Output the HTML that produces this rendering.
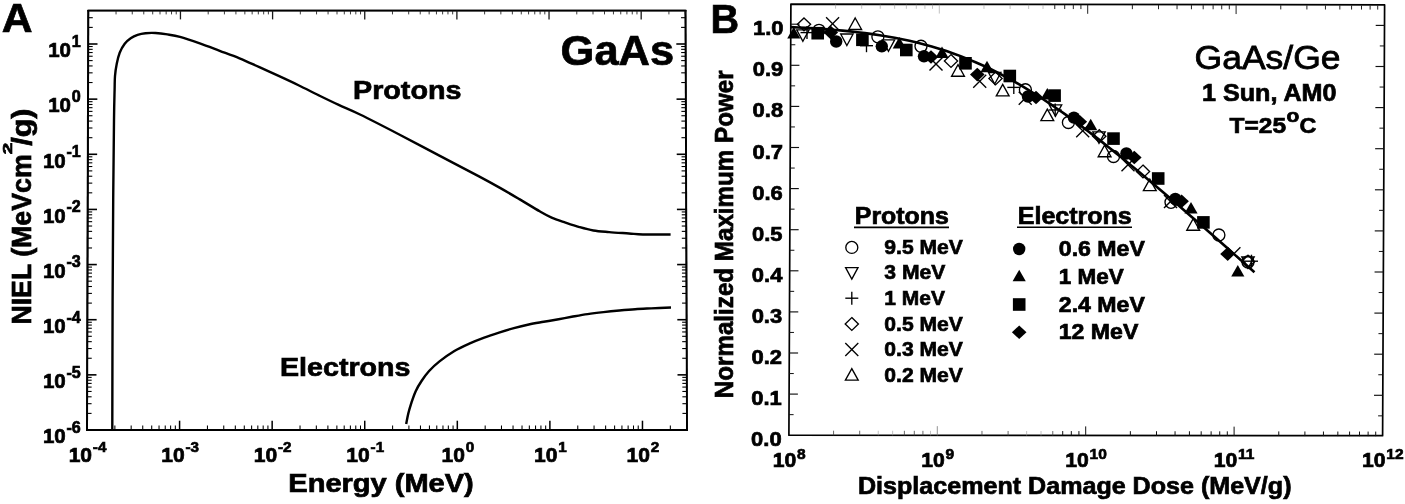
<!DOCTYPE html>
<html><head><meta charset="utf-8"><title>Figure</title>
<style>html,body{margin:0;padding:0;background:#fff;}svg{display:block;}text{font-family:"Liberation Sans",sans-serif;fill:#000;}</style>
</head><body>
<div style="will-change:transform;width:1405px;height:504px;overflow:hidden;background:#fff;">
<svg width="1405" height="504" viewBox="0 0 1405 504">
<rect x="0" y="0" width="1405" height="504" fill="#fff"/>
<polygon points="88.3,10.6 685.5,10.6 687.0,430.0 87.0,430.0" fill="none" stroke="#000" stroke-width="1.5" stroke-linejoin="round"/>
<line x1="88.30" y1="10.00" x2="87.00" y2="431.00" stroke="#000" stroke-width="2.0"/>
<line x1="685.50" y1="10.00" x2="687.00" y2="431.00" stroke="#000" stroke-width="1.9"/>
<line x1="86.00" y1="430.00" x2="687.95" y2="430.00" stroke="#000" stroke-width="2.1"/>
<line x1="87.30" y1="10.60" x2="686.45" y2="10.60" stroke="#000" stroke-width="1.6"/>
<line x1="114.87" y1="430.00" x2="114.87" y2="425.50" stroke="#000" stroke-width="1.05"/>
<line x1="116.04" y1="10.60" x2="116.04" y2="14.40" stroke="#1a1a1a" stroke-width="0.8500000000000001"/>
<line x1="131.17" y1="430.00" x2="131.17" y2="425.50" stroke="#000" stroke-width="1.05"/>
<line x1="132.26" y1="10.60" x2="132.26" y2="14.40" stroke="#1a1a1a" stroke-width="0.8500000000000001"/>
<line x1="142.74" y1="430.00" x2="142.74" y2="425.50" stroke="#000" stroke-width="1.05"/>
<line x1="143.78" y1="10.60" x2="143.78" y2="14.40" stroke="#1a1a1a" stroke-width="0.8500000000000001"/>
<line x1="151.71" y1="430.00" x2="151.71" y2="425.50" stroke="#000" stroke-width="1.05"/>
<line x1="152.71" y1="10.60" x2="152.71" y2="14.40" stroke="#1a1a1a" stroke-width="0.8500000000000001"/>
<line x1="159.04" y1="430.00" x2="159.04" y2="425.50" stroke="#000" stroke-width="1.05"/>
<line x1="160.00" y1="10.60" x2="160.00" y2="14.40" stroke="#1a1a1a" stroke-width="0.8500000000000001"/>
<line x1="165.24" y1="430.00" x2="165.24" y2="425.50" stroke="#000" stroke-width="1.05"/>
<line x1="166.17" y1="10.60" x2="166.17" y2="14.40" stroke="#1a1a1a" stroke-width="0.8500000000000001"/>
<line x1="170.61" y1="430.00" x2="170.61" y2="425.50" stroke="#000" stroke-width="1.05"/>
<line x1="171.52" y1="10.60" x2="171.52" y2="14.40" stroke="#1a1a1a" stroke-width="0.8500000000000001"/>
<line x1="175.34" y1="430.00" x2="175.34" y2="425.50" stroke="#000" stroke-width="1.05"/>
<line x1="176.23" y1="10.60" x2="176.23" y2="14.40" stroke="#1a1a1a" stroke-width="0.8500000000000001"/>
<line x1="179.58" y1="430.00" x2="179.58" y2="420.70" stroke="#000" stroke-width="1.5"/>
<line x1="180.45" y1="10.60" x2="180.45" y2="19.40" stroke="#1a1a1a" stroke-width="1.3"/>
<line x1="207.45" y1="430.00" x2="207.45" y2="425.50" stroke="#000" stroke-width="1.05"/>
<line x1="208.19" y1="10.60" x2="208.19" y2="14.40" stroke="#1a1a1a" stroke-width="0.8500000000000001"/>
<line x1="223.75" y1="430.00" x2="223.75" y2="425.50" stroke="#000" stroke-width="1.05"/>
<line x1="224.41" y1="10.60" x2="224.41" y2="14.40" stroke="#1a1a1a" stroke-width="0.8500000000000001"/>
<line x1="235.32" y1="430.00" x2="235.32" y2="425.50" stroke="#000" stroke-width="1.05"/>
<line x1="235.92" y1="10.60" x2="235.92" y2="14.40" stroke="#1a1a1a" stroke-width="0.8500000000000001"/>
<line x1="244.29" y1="430.00" x2="244.29" y2="425.50" stroke="#000" stroke-width="1.05"/>
<line x1="244.85" y1="10.60" x2="244.85" y2="14.40" stroke="#1a1a1a" stroke-width="0.8500000000000001"/>
<line x1="251.62" y1="430.00" x2="251.62" y2="425.50" stroke="#000" stroke-width="1.05"/>
<line x1="252.15" y1="10.60" x2="252.15" y2="14.40" stroke="#1a1a1a" stroke-width="0.8500000000000001"/>
<line x1="257.82" y1="430.00" x2="257.82" y2="425.50" stroke="#000" stroke-width="1.05"/>
<line x1="258.32" y1="10.60" x2="258.32" y2="14.40" stroke="#1a1a1a" stroke-width="0.8500000000000001"/>
<line x1="263.18" y1="430.00" x2="263.18" y2="425.50" stroke="#000" stroke-width="1.05"/>
<line x1="263.66" y1="10.60" x2="263.66" y2="14.40" stroke="#1a1a1a" stroke-width="0.8500000000000001"/>
<line x1="267.92" y1="430.00" x2="267.92" y2="425.50" stroke="#000" stroke-width="1.05"/>
<line x1="268.38" y1="10.60" x2="268.38" y2="14.40" stroke="#1a1a1a" stroke-width="0.8500000000000001"/>
<line x1="272.16" y1="430.00" x2="272.16" y2="420.70" stroke="#000" stroke-width="1.5"/>
<line x1="272.59" y1="10.60" x2="272.59" y2="19.40" stroke="#1a1a1a" stroke-width="1.3"/>
<line x1="300.03" y1="430.00" x2="300.03" y2="425.50" stroke="#000" stroke-width="1.05"/>
<line x1="300.33" y1="10.60" x2="300.33" y2="14.40" stroke="#1a1a1a" stroke-width="0.8500000000000001"/>
<line x1="316.33" y1="430.00" x2="316.33" y2="425.50" stroke="#000" stroke-width="1.05"/>
<line x1="316.56" y1="10.60" x2="316.56" y2="14.40" stroke="#1a1a1a" stroke-width="0.8500000000000001"/>
<line x1="327.89" y1="430.00" x2="327.89" y2="425.50" stroke="#000" stroke-width="1.05"/>
<line x1="328.07" y1="10.60" x2="328.07" y2="14.40" stroke="#1a1a1a" stroke-width="0.8500000000000001"/>
<line x1="336.87" y1="430.00" x2="336.87" y2="425.50" stroke="#000" stroke-width="1.05"/>
<line x1="337.00" y1="10.60" x2="337.00" y2="14.40" stroke="#1a1a1a" stroke-width="0.8500000000000001"/>
<line x1="344.20" y1="430.00" x2="344.20" y2="425.50" stroke="#000" stroke-width="1.05"/>
<line x1="344.30" y1="10.60" x2="344.30" y2="14.40" stroke="#1a1a1a" stroke-width="0.8500000000000001"/>
<line x1="350.39" y1="430.00" x2="350.39" y2="425.50" stroke="#000" stroke-width="1.05"/>
<line x1="350.47" y1="10.60" x2="350.47" y2="14.40" stroke="#1a1a1a" stroke-width="0.8500000000000001"/>
<line x1="355.76" y1="430.00" x2="355.76" y2="425.50" stroke="#000" stroke-width="1.05"/>
<line x1="355.81" y1="10.60" x2="355.81" y2="14.40" stroke="#1a1a1a" stroke-width="0.8500000000000001"/>
<line x1="360.50" y1="430.00" x2="360.50" y2="425.50" stroke="#000" stroke-width="1.05"/>
<line x1="360.52" y1="10.60" x2="360.52" y2="14.40" stroke="#1a1a1a" stroke-width="0.8500000000000001"/>
<line x1="364.73" y1="430.00" x2="364.73" y2="420.70" stroke="#000" stroke-width="1.5"/>
<line x1="364.74" y1="10.60" x2="364.74" y2="19.40" stroke="#1a1a1a" stroke-width="1.3"/>
<line x1="392.60" y1="430.00" x2="392.60" y2="425.50" stroke="#000" stroke-width="1.05"/>
<line x1="392.48" y1="10.60" x2="392.48" y2="14.40" stroke="#1a1a1a" stroke-width="0.8500000000000001"/>
<line x1="408.91" y1="430.00" x2="408.91" y2="425.50" stroke="#000" stroke-width="1.05"/>
<line x1="408.70" y1="10.60" x2="408.70" y2="14.40" stroke="#1a1a1a" stroke-width="0.8500000000000001"/>
<line x1="420.47" y1="430.00" x2="420.47" y2="425.50" stroke="#000" stroke-width="1.05"/>
<line x1="420.22" y1="10.60" x2="420.22" y2="14.40" stroke="#1a1a1a" stroke-width="0.8500000000000001"/>
<line x1="429.44" y1="430.00" x2="429.44" y2="425.50" stroke="#000" stroke-width="1.05"/>
<line x1="429.15" y1="10.60" x2="429.15" y2="14.40" stroke="#1a1a1a" stroke-width="0.8500000000000001"/>
<line x1="436.77" y1="430.00" x2="436.77" y2="425.50" stroke="#000" stroke-width="1.05"/>
<line x1="436.44" y1="10.60" x2="436.44" y2="14.40" stroke="#1a1a1a" stroke-width="0.8500000000000001"/>
<line x1="442.97" y1="430.00" x2="442.97" y2="425.50" stroke="#000" stroke-width="1.05"/>
<line x1="442.61" y1="10.60" x2="442.61" y2="14.40" stroke="#1a1a1a" stroke-width="0.8500000000000001"/>
<line x1="448.34" y1="430.00" x2="448.34" y2="425.50" stroke="#000" stroke-width="1.05"/>
<line x1="447.96" y1="10.60" x2="447.96" y2="14.40" stroke="#1a1a1a" stroke-width="0.8500000000000001"/>
<line x1="453.08" y1="430.00" x2="453.08" y2="425.50" stroke="#000" stroke-width="1.05"/>
<line x1="452.67" y1="10.60" x2="452.67" y2="14.40" stroke="#1a1a1a" stroke-width="0.8500000000000001"/>
<line x1="457.31" y1="430.00" x2="457.31" y2="420.70" stroke="#000" stroke-width="1.5"/>
<line x1="456.89" y1="10.60" x2="456.89" y2="19.40" stroke="#1a1a1a" stroke-width="1.3"/>
<line x1="485.18" y1="430.00" x2="485.18" y2="425.50" stroke="#000" stroke-width="1.05"/>
<line x1="484.62" y1="10.60" x2="484.62" y2="14.40" stroke="#1a1a1a" stroke-width="0.8500000000000001"/>
<line x1="501.48" y1="430.00" x2="501.48" y2="425.50" stroke="#000" stroke-width="1.05"/>
<line x1="500.85" y1="10.60" x2="500.85" y2="14.40" stroke="#1a1a1a" stroke-width="0.8500000000000001"/>
<line x1="513.05" y1="430.00" x2="513.05" y2="425.50" stroke="#000" stroke-width="1.05"/>
<line x1="512.36" y1="10.60" x2="512.36" y2="14.40" stroke="#1a1a1a" stroke-width="0.8500000000000001"/>
<line x1="522.02" y1="430.00" x2="522.02" y2="425.50" stroke="#000" stroke-width="1.05"/>
<line x1="521.29" y1="10.60" x2="521.29" y2="14.40" stroke="#1a1a1a" stroke-width="0.8500000000000001"/>
<line x1="529.35" y1="430.00" x2="529.35" y2="425.50" stroke="#000" stroke-width="1.05"/>
<line x1="528.59" y1="10.60" x2="528.59" y2="14.40" stroke="#1a1a1a" stroke-width="0.8500000000000001"/>
<line x1="535.55" y1="430.00" x2="535.55" y2="425.50" stroke="#000" stroke-width="1.05"/>
<line x1="534.76" y1="10.60" x2="534.76" y2="14.40" stroke="#1a1a1a" stroke-width="0.8500000000000001"/>
<line x1="540.92" y1="430.00" x2="540.92" y2="425.50" stroke="#000" stroke-width="1.05"/>
<line x1="540.10" y1="10.60" x2="540.10" y2="14.40" stroke="#1a1a1a" stroke-width="0.8500000000000001"/>
<line x1="545.66" y1="430.00" x2="545.66" y2="425.50" stroke="#000" stroke-width="1.05"/>
<line x1="544.81" y1="10.60" x2="544.81" y2="14.40" stroke="#1a1a1a" stroke-width="0.8500000000000001"/>
<line x1="549.89" y1="430.00" x2="549.89" y2="420.70" stroke="#000" stroke-width="1.5"/>
<line x1="549.03" y1="10.60" x2="549.03" y2="19.40" stroke="#1a1a1a" stroke-width="1.3"/>
<line x1="577.76" y1="430.00" x2="577.76" y2="425.50" stroke="#000" stroke-width="1.05"/>
<line x1="576.77" y1="10.60" x2="576.77" y2="14.40" stroke="#1a1a1a" stroke-width="0.8500000000000001"/>
<line x1="594.06" y1="430.00" x2="594.06" y2="425.50" stroke="#000" stroke-width="1.05"/>
<line x1="593.00" y1="10.60" x2="593.00" y2="14.40" stroke="#1a1a1a" stroke-width="0.8500000000000001"/>
<line x1="605.63" y1="430.00" x2="605.63" y2="425.50" stroke="#000" stroke-width="1.05"/>
<line x1="604.51" y1="10.60" x2="604.51" y2="14.40" stroke="#1a1a1a" stroke-width="0.8500000000000001"/>
<line x1="614.60" y1="430.00" x2="614.60" y2="425.50" stroke="#000" stroke-width="1.05"/>
<line x1="613.44" y1="10.60" x2="613.44" y2="14.40" stroke="#1a1a1a" stroke-width="0.8500000000000001"/>
<line x1="621.93" y1="430.00" x2="621.93" y2="425.50" stroke="#000" stroke-width="1.05"/>
<line x1="620.74" y1="10.60" x2="620.74" y2="14.40" stroke="#1a1a1a" stroke-width="0.8500000000000001"/>
<line x1="628.13" y1="430.00" x2="628.13" y2="425.50" stroke="#000" stroke-width="1.05"/>
<line x1="626.90" y1="10.60" x2="626.90" y2="14.40" stroke="#1a1a1a" stroke-width="0.8500000000000001"/>
<line x1="633.50" y1="430.00" x2="633.50" y2="425.50" stroke="#000" stroke-width="1.05"/>
<line x1="632.25" y1="10.60" x2="632.25" y2="14.40" stroke="#1a1a1a" stroke-width="0.8500000000000001"/>
<line x1="638.23" y1="430.00" x2="638.23" y2="425.50" stroke="#000" stroke-width="1.05"/>
<line x1="636.96" y1="10.60" x2="636.96" y2="14.40" stroke="#1a1a1a" stroke-width="0.8500000000000001"/>
<line x1="642.47" y1="430.00" x2="642.47" y2="420.70" stroke="#000" stroke-width="1.5"/>
<line x1="641.18" y1="10.60" x2="641.18" y2="19.40" stroke="#1a1a1a" stroke-width="1.3"/>
<line x1="670.34" y1="430.00" x2="670.34" y2="425.50" stroke="#000" stroke-width="1.05"/>
<line x1="668.92" y1="10.60" x2="668.92" y2="14.40" stroke="#1a1a1a" stroke-width="0.8500000000000001"/>
<line x1="686.64" y1="430.00" x2="686.64" y2="425.50" stroke="#000" stroke-width="1.05"/>
<line x1="685.14" y1="10.60" x2="685.14" y2="14.40" stroke="#1a1a1a" stroke-width="0.8500000000000001"/>
<line x1="87.05" y1="413.40" x2="91.55" y2="413.40" stroke="#000" stroke-width="1.1"/>
<line x1="686.94" y1="413.40" x2="682.44" y2="413.40" stroke="#000" stroke-width="1.1"/>
<line x1="87.08" y1="403.69" x2="91.58" y2="403.69" stroke="#000" stroke-width="1.1"/>
<line x1="686.91" y1="403.69" x2="682.41" y2="403.69" stroke="#000" stroke-width="1.1"/>
<line x1="87.10" y1="396.80" x2="91.60" y2="396.80" stroke="#000" stroke-width="1.1"/>
<line x1="686.88" y1="396.80" x2="682.38" y2="396.80" stroke="#000" stroke-width="1.1"/>
<line x1="87.12" y1="391.46" x2="91.62" y2="391.46" stroke="#000" stroke-width="1.1"/>
<line x1="686.86" y1="391.46" x2="682.36" y2="391.46" stroke="#000" stroke-width="1.1"/>
<line x1="87.13" y1="387.09" x2="91.63" y2="387.09" stroke="#000" stroke-width="1.1"/>
<line x1="686.85" y1="387.09" x2="682.35" y2="387.09" stroke="#000" stroke-width="1.1"/>
<line x1="87.14" y1="383.40" x2="91.64" y2="383.40" stroke="#000" stroke-width="1.1"/>
<line x1="686.83" y1="383.40" x2="682.33" y2="383.40" stroke="#000" stroke-width="1.1"/>
<line x1="87.15" y1="380.20" x2="91.65" y2="380.20" stroke="#000" stroke-width="1.1"/>
<line x1="686.82" y1="380.20" x2="682.32" y2="380.20" stroke="#000" stroke-width="1.1"/>
<line x1="87.16" y1="377.38" x2="91.66" y2="377.38" stroke="#000" stroke-width="1.1"/>
<line x1="686.81" y1="377.38" x2="682.31" y2="377.38" stroke="#000" stroke-width="1.1"/>
<line x1="87.17" y1="374.86" x2="96.47" y2="374.86" stroke="#000" stroke-width="1.6"/>
<line x1="686.80" y1="374.86" x2="677.50" y2="374.86" stroke="#000" stroke-width="1.6"/>
<line x1="87.22" y1="358.26" x2="91.72" y2="358.26" stroke="#000" stroke-width="1.1"/>
<line x1="686.74" y1="358.26" x2="682.24" y2="358.26" stroke="#000" stroke-width="1.1"/>
<line x1="87.25" y1="348.55" x2="91.75" y2="348.55" stroke="#000" stroke-width="1.1"/>
<line x1="686.71" y1="348.55" x2="682.21" y2="348.55" stroke="#000" stroke-width="1.1"/>
<line x1="87.27" y1="341.66" x2="91.77" y2="341.66" stroke="#000" stroke-width="1.1"/>
<line x1="686.68" y1="341.66" x2="682.18" y2="341.66" stroke="#000" stroke-width="1.1"/>
<line x1="87.29" y1="336.31" x2="91.79" y2="336.31" stroke="#000" stroke-width="1.1"/>
<line x1="686.66" y1="336.31" x2="682.16" y2="336.31" stroke="#000" stroke-width="1.1"/>
<line x1="87.30" y1="331.95" x2="91.80" y2="331.95" stroke="#000" stroke-width="1.1"/>
<line x1="686.65" y1="331.95" x2="682.15" y2="331.95" stroke="#000" stroke-width="1.1"/>
<line x1="87.32" y1="328.26" x2="91.82" y2="328.26" stroke="#000" stroke-width="1.1"/>
<line x1="686.64" y1="328.26" x2="682.14" y2="328.26" stroke="#000" stroke-width="1.1"/>
<line x1="87.33" y1="325.06" x2="91.83" y2="325.06" stroke="#000" stroke-width="1.1"/>
<line x1="686.62" y1="325.06" x2="682.12" y2="325.06" stroke="#000" stroke-width="1.1"/>
<line x1="87.33" y1="322.24" x2="91.83" y2="322.24" stroke="#000" stroke-width="1.1"/>
<line x1="686.61" y1="322.24" x2="682.11" y2="322.24" stroke="#000" stroke-width="1.1"/>
<line x1="87.34" y1="319.71" x2="96.64" y2="319.71" stroke="#000" stroke-width="1.6"/>
<line x1="686.61" y1="319.71" x2="677.31" y2="319.71" stroke="#000" stroke-width="1.6"/>
<line x1="87.39" y1="303.11" x2="91.89" y2="303.11" stroke="#000" stroke-width="1.1"/>
<line x1="686.55" y1="303.11" x2="682.05" y2="303.11" stroke="#000" stroke-width="1.1"/>
<line x1="87.42" y1="293.40" x2="91.92" y2="293.40" stroke="#000" stroke-width="1.1"/>
<line x1="686.51" y1="293.40" x2="682.01" y2="293.40" stroke="#000" stroke-width="1.1"/>
<line x1="87.44" y1="286.51" x2="91.94" y2="286.51" stroke="#000" stroke-width="1.1"/>
<line x1="686.49" y1="286.51" x2="681.99" y2="286.51" stroke="#000" stroke-width="1.1"/>
<line x1="87.46" y1="281.17" x2="91.96" y2="281.17" stroke="#000" stroke-width="1.1"/>
<line x1="686.47" y1="281.17" x2="681.97" y2="281.17" stroke="#000" stroke-width="1.1"/>
<line x1="87.47" y1="276.80" x2="91.97" y2="276.80" stroke="#000" stroke-width="1.1"/>
<line x1="686.45" y1="276.80" x2="681.95" y2="276.80" stroke="#000" stroke-width="1.1"/>
<line x1="87.49" y1="273.11" x2="91.99" y2="273.11" stroke="#000" stroke-width="1.1"/>
<line x1="686.44" y1="273.11" x2="681.94" y2="273.11" stroke="#000" stroke-width="1.1"/>
<line x1="87.50" y1="269.92" x2="92.00" y2="269.92" stroke="#000" stroke-width="1.1"/>
<line x1="686.43" y1="269.92" x2="681.93" y2="269.92" stroke="#000" stroke-width="1.1"/>
<line x1="87.50" y1="267.09" x2="92.00" y2="267.09" stroke="#000" stroke-width="1.1"/>
<line x1="686.42" y1="267.09" x2="681.92" y2="267.09" stroke="#000" stroke-width="1.1"/>
<line x1="87.51" y1="264.57" x2="96.81" y2="264.57" stroke="#000" stroke-width="1.6"/>
<line x1="686.41" y1="264.57" x2="677.11" y2="264.57" stroke="#000" stroke-width="1.6"/>
<line x1="87.56" y1="247.97" x2="92.06" y2="247.97" stroke="#000" stroke-width="1.1"/>
<line x1="686.35" y1="247.97" x2="681.85" y2="247.97" stroke="#000" stroke-width="1.1"/>
<line x1="87.59" y1="238.26" x2="92.09" y2="238.26" stroke="#000" stroke-width="1.1"/>
<line x1="686.31" y1="238.26" x2="681.81" y2="238.26" stroke="#000" stroke-width="1.1"/>
<line x1="87.62" y1="231.37" x2="92.12" y2="231.37" stroke="#000" stroke-width="1.1"/>
<line x1="686.29" y1="231.37" x2="681.79" y2="231.37" stroke="#000" stroke-width="1.1"/>
<line x1="87.63" y1="226.03" x2="92.13" y2="226.03" stroke="#000" stroke-width="1.1"/>
<line x1="686.27" y1="226.03" x2="681.77" y2="226.03" stroke="#000" stroke-width="1.1"/>
<line x1="87.65" y1="221.66" x2="92.15" y2="221.66" stroke="#000" stroke-width="1.1"/>
<line x1="686.25" y1="221.66" x2="681.75" y2="221.66" stroke="#000" stroke-width="1.1"/>
<line x1="87.66" y1="217.97" x2="92.16" y2="217.97" stroke="#000" stroke-width="1.1"/>
<line x1="686.24" y1="217.97" x2="681.74" y2="217.97" stroke="#000" stroke-width="1.1"/>
<line x1="87.67" y1="214.77" x2="92.17" y2="214.77" stroke="#000" stroke-width="1.1"/>
<line x1="686.23" y1="214.77" x2="681.73" y2="214.77" stroke="#000" stroke-width="1.1"/>
<line x1="87.68" y1="211.95" x2="92.18" y2="211.95" stroke="#000" stroke-width="1.1"/>
<line x1="686.22" y1="211.95" x2="681.72" y2="211.95" stroke="#000" stroke-width="1.1"/>
<line x1="87.68" y1="209.43" x2="96.98" y2="209.43" stroke="#000" stroke-width="1.6"/>
<line x1="686.21" y1="209.43" x2="676.91" y2="209.43" stroke="#000" stroke-width="1.6"/>
<line x1="87.74" y1="192.83" x2="92.24" y2="192.83" stroke="#000" stroke-width="1.1"/>
<line x1="686.15" y1="192.83" x2="681.65" y2="192.83" stroke="#000" stroke-width="1.1"/>
<line x1="87.77" y1="183.12" x2="92.27" y2="183.12" stroke="#000" stroke-width="1.1"/>
<line x1="686.12" y1="183.12" x2="681.62" y2="183.12" stroke="#000" stroke-width="1.1"/>
<line x1="87.79" y1="176.23" x2="92.29" y2="176.23" stroke="#000" stroke-width="1.1"/>
<line x1="686.09" y1="176.23" x2="681.59" y2="176.23" stroke="#000" stroke-width="1.1"/>
<line x1="87.80" y1="170.89" x2="92.30" y2="170.89" stroke="#000" stroke-width="1.1"/>
<line x1="686.07" y1="170.89" x2="681.57" y2="170.89" stroke="#000" stroke-width="1.1"/>
<line x1="87.82" y1="166.52" x2="92.32" y2="166.52" stroke="#000" stroke-width="1.1"/>
<line x1="686.06" y1="166.52" x2="681.56" y2="166.52" stroke="#000" stroke-width="1.1"/>
<line x1="87.83" y1="162.83" x2="92.33" y2="162.83" stroke="#000" stroke-width="1.1"/>
<line x1="686.04" y1="162.83" x2="681.54" y2="162.83" stroke="#000" stroke-width="1.1"/>
<line x1="87.84" y1="159.63" x2="92.34" y2="159.63" stroke="#000" stroke-width="1.1"/>
<line x1="686.03" y1="159.63" x2="681.53" y2="159.63" stroke="#000" stroke-width="1.1"/>
<line x1="87.85" y1="156.81" x2="92.35" y2="156.81" stroke="#000" stroke-width="1.1"/>
<line x1="686.02" y1="156.81" x2="681.52" y2="156.81" stroke="#000" stroke-width="1.1"/>
<line x1="87.85" y1="154.29" x2="97.15" y2="154.29" stroke="#000" stroke-width="1.6"/>
<line x1="686.01" y1="154.29" x2="676.71" y2="154.29" stroke="#000" stroke-width="1.6"/>
<line x1="87.91" y1="137.69" x2="92.41" y2="137.69" stroke="#000" stroke-width="1.1"/>
<line x1="685.95" y1="137.69" x2="681.45" y2="137.69" stroke="#000" stroke-width="1.1"/>
<line x1="87.94" y1="127.98" x2="92.44" y2="127.98" stroke="#000" stroke-width="1.1"/>
<line x1="685.92" y1="127.98" x2="681.42" y2="127.98" stroke="#000" stroke-width="1.1"/>
<line x1="87.96" y1="121.09" x2="92.46" y2="121.09" stroke="#000" stroke-width="1.1"/>
<line x1="685.90" y1="121.09" x2="681.40" y2="121.09" stroke="#000" stroke-width="1.1"/>
<line x1="87.97" y1="115.74" x2="92.47" y2="115.74" stroke="#000" stroke-width="1.1"/>
<line x1="685.88" y1="115.74" x2="681.38" y2="115.74" stroke="#000" stroke-width="1.1"/>
<line x1="87.99" y1="111.38" x2="92.49" y2="111.38" stroke="#000" stroke-width="1.1"/>
<line x1="685.86" y1="111.38" x2="681.36" y2="111.38" stroke="#000" stroke-width="1.1"/>
<line x1="88.00" y1="107.68" x2="92.50" y2="107.68" stroke="#000" stroke-width="1.1"/>
<line x1="685.85" y1="107.68" x2="681.35" y2="107.68" stroke="#000" stroke-width="1.1"/>
<line x1="88.01" y1="104.49" x2="92.51" y2="104.49" stroke="#000" stroke-width="1.1"/>
<line x1="685.84" y1="104.49" x2="681.34" y2="104.49" stroke="#000" stroke-width="1.1"/>
<line x1="88.02" y1="101.67" x2="92.52" y2="101.67" stroke="#000" stroke-width="1.1"/>
<line x1="685.83" y1="101.67" x2="681.33" y2="101.67" stroke="#000" stroke-width="1.1"/>
<line x1="88.03" y1="99.14" x2="97.33" y2="99.14" stroke="#000" stroke-width="1.6"/>
<line x1="685.82" y1="99.14" x2="676.52" y2="99.14" stroke="#000" stroke-width="1.6"/>
<line x1="88.08" y1="82.54" x2="92.58" y2="82.54" stroke="#000" stroke-width="1.1"/>
<line x1="685.76" y1="82.54" x2="681.26" y2="82.54" stroke="#000" stroke-width="1.1"/>
<line x1="88.11" y1="72.83" x2="92.61" y2="72.83" stroke="#000" stroke-width="1.1"/>
<line x1="685.72" y1="72.83" x2="681.22" y2="72.83" stroke="#000" stroke-width="1.1"/>
<line x1="88.13" y1="65.94" x2="92.63" y2="65.94" stroke="#000" stroke-width="1.1"/>
<line x1="685.70" y1="65.94" x2="681.20" y2="65.94" stroke="#000" stroke-width="1.1"/>
<line x1="88.15" y1="60.60" x2="92.65" y2="60.60" stroke="#000" stroke-width="1.1"/>
<line x1="685.68" y1="60.60" x2="681.18" y2="60.60" stroke="#000" stroke-width="1.1"/>
<line x1="88.16" y1="56.23" x2="92.66" y2="56.23" stroke="#000" stroke-width="1.1"/>
<line x1="685.66" y1="56.23" x2="681.16" y2="56.23" stroke="#000" stroke-width="1.1"/>
<line x1="88.17" y1="52.54" x2="92.67" y2="52.54" stroke="#000" stroke-width="1.1"/>
<line x1="685.65" y1="52.54" x2="681.15" y2="52.54" stroke="#000" stroke-width="1.1"/>
<line x1="88.18" y1="49.34" x2="92.68" y2="49.34" stroke="#000" stroke-width="1.1"/>
<line x1="685.64" y1="49.34" x2="681.14" y2="49.34" stroke="#000" stroke-width="1.1"/>
<line x1="88.19" y1="46.52" x2="92.69" y2="46.52" stroke="#000" stroke-width="1.1"/>
<line x1="685.63" y1="46.52" x2="681.13" y2="46.52" stroke="#000" stroke-width="1.1"/>
<line x1="88.20" y1="44.00" x2="97.50" y2="44.00" stroke="#000" stroke-width="1.6"/>
<line x1="685.62" y1="44.00" x2="676.32" y2="44.00" stroke="#000" stroke-width="1.6"/>
<line x1="88.25" y1="27.40" x2="92.75" y2="27.40" stroke="#000" stroke-width="1.1"/>
<line x1="685.56" y1="27.40" x2="681.06" y2="27.40" stroke="#000" stroke-width="1.1"/>
<line x1="88.28" y1="17.69" x2="92.78" y2="17.69" stroke="#000" stroke-width="1.1"/>
<line x1="685.53" y1="17.69" x2="681.03" y2="17.69" stroke="#000" stroke-width="1.1"/>
<path d="M112.30,430.00 C112.35,408.33 112.45,338.33 112.60,300.00 C112.75,261.67 112.97,230.00 113.20,200.00 C113.43,170.00 113.77,138.33 114.00,120.00 C114.23,101.67 114.43,97.33 114.60,90.00 C114.77,82.67 114.63,80.40 115.00,76.00 C115.37,71.60 116.02,67.48 116.80,63.60 C117.58,59.72 118.38,56.02 119.70,52.70 C121.02,49.38 122.87,46.12 124.70,43.70 C126.53,41.28 128.55,39.68 130.70,38.20 C132.85,36.72 135.13,35.63 137.60,34.80 C140.07,33.97 142.52,33.50 145.50,33.20 C148.48,32.90 151.85,32.80 155.50,33.00 C159.15,33.20 163.32,33.75 167.40,34.40 C171.48,35.05 174.60,35.40 180.00,36.90 C185.40,38.40 193.18,41.08 199.80,43.40 C206.42,45.72 213.08,48.32 219.70,50.80 C226.32,53.28 232.88,55.57 239.50,58.30 C246.12,61.03 252.78,64.22 259.40,67.20 C266.02,70.18 272.60,73.15 279.20,76.20 C285.80,79.25 292.38,82.30 299.00,85.50 C305.62,88.70 312.28,92.17 318.90,95.40 C325.52,98.63 331.85,101.72 338.70,104.90 C345.55,108.08 349.83,109.53 360.00,114.50 C370.17,119.47 386.47,127.85 399.70,134.70 C412.93,141.55 426.18,148.65 439.40,155.60 C452.62,162.55 468.90,171.02 479.00,176.40 C489.10,181.78 493.20,184.07 500.00,187.90 C506.80,191.73 513.18,195.50 519.80,199.40 C526.42,203.30 534.40,208.27 539.70,211.30 C545.00,214.33 547.30,215.72 551.60,217.60 C555.90,219.48 560.87,221.02 565.50,222.60 C570.13,224.18 574.77,225.78 579.40,227.10 C584.03,228.42 588.35,229.67 593.30,230.50 C598.25,231.33 603.15,231.60 609.10,232.10 C615.05,232.60 623.37,233.10 629.00,233.50 C634.63,233.90 635.97,234.33 642.90,234.50 C649.83,234.67 665.98,234.50 670.60,234.50" fill="none" stroke="#000" stroke-width="2.4" stroke-linecap="butt" stroke-linejoin="round"/>
<path d="M406.20,423.90 C406.55,422.17 407.45,416.97 408.30,413.50 C409.15,410.03 410.07,406.82 411.30,403.10 C412.53,399.38 413.97,394.92 415.70,391.20 C417.43,387.48 419.47,384.17 421.70,380.80 C423.93,377.43 426.13,374.23 429.10,371.00 C432.07,367.77 435.28,364.73 439.50,361.40 C443.72,358.07 449.43,353.97 454.40,351.00 C459.37,348.03 464.33,345.83 469.30,343.60 C474.27,341.37 479.25,339.43 484.20,337.60 C489.15,335.77 494.05,334.18 499.00,332.60 C503.95,331.02 508.93,329.45 513.90,328.10 C518.87,326.75 523.83,325.55 528.80,324.50 C533.77,323.45 538.73,322.68 543.70,321.80 C548.67,320.92 553.93,320.03 558.60,319.20 C563.27,318.37 566.87,317.65 571.70,316.80 C576.53,315.95 582.30,314.88 587.60,314.10 C592.90,313.32 598.20,312.70 603.50,312.10 C608.80,311.50 614.12,310.98 619.40,310.50 C624.68,310.02 629.92,309.55 635.20,309.20 C640.48,308.85 645.13,308.68 651.10,308.40 C657.07,308.12 667.68,307.65 671.00,307.50" fill="none" stroke="#000" stroke-width="2.45" stroke-linecap="butt" stroke-linejoin="round"/>
<text x="1.80" y="32.20" font-size="41" font-weight="bold" text-anchor="start" textLength="30.80" lengthAdjust="spacingAndGlyphs" stroke="#000" stroke-width="0.7">A</text>
<text x="560.60" y="65.40" font-size="42.3" font-weight="bold" text-anchor="start" textLength="113.50" lengthAdjust="spacingAndGlyphs" stroke="#000" stroke-width="0.7">GaAs</text>
<text x="353.00" y="98.80" font-size="26.5" font-weight="bold" text-anchor="start" textLength="108.50" lengthAdjust="spacingAndGlyphs" stroke="#000" stroke-width="0.7">Protons</text>
<text x="280.00" y="376.30" font-size="26.5" font-weight="bold" text-anchor="start" textLength="130.50" lengthAdjust="spacingAndGlyphs" stroke="#000" stroke-width="0.7">Electrons</text>
<text x="288.30" y="491.70" font-size="25.5" font-weight="bold" text-anchor="start" textLength="185.50" lengthAdjust="spacingAndGlyphs" stroke="#000" stroke-width="0.7">Energy (MeV)</text>
<text x="31.20" y="324.60" font-size="27.3" font-weight="bold" text-anchor="start" textLength="170.30" lengthAdjust="spacingAndGlyphs" transform="rotate(-90 31.20 324.60)" stroke="#000" stroke-width="0.7">NIEL (MeVcm</text>
<text x="12.30" y="154.20" font-size="13.5" font-weight="bold" text-anchor="start" textLength="11.60" lengthAdjust="spacingAndGlyphs" transform="rotate(-90 12.30 154.20)" stroke="#000" stroke-width="0.7">2</text>
<text x="31.20" y="145.80" font-size="27.3" font-weight="bold" text-anchor="start" textLength="37.30" lengthAdjust="spacingAndGlyphs" transform="rotate(-90 31.20 145.80)" stroke="#000" stroke-width="0.7">/g)</text>
<text x="42.90" y="443.30" font-size="20.5" font-weight="bold" text-anchor="start" textLength="22.80" lengthAdjust="spacingAndGlyphs" stroke="#000" stroke-width="0.7">10</text>
<text x="66.50" y="432.90" font-size="16.5" font-weight="bold" text-anchor="start" textLength="14.30" lengthAdjust="spacingAndGlyphs" stroke="#000" stroke-width="0.7">-6</text>
<text x="42.90" y="388.16" font-size="20.5" font-weight="bold" text-anchor="start" textLength="22.80" lengthAdjust="spacingAndGlyphs" stroke="#000" stroke-width="0.7">10</text>
<text x="66.50" y="377.76" font-size="16.5" font-weight="bold" text-anchor="start" textLength="14.30" lengthAdjust="spacingAndGlyphs" stroke="#000" stroke-width="0.7">-5</text>
<text x="42.90" y="333.01" font-size="20.5" font-weight="bold" text-anchor="start" textLength="22.80" lengthAdjust="spacingAndGlyphs" stroke="#000" stroke-width="0.7">10</text>
<text x="66.50" y="322.61" font-size="16.5" font-weight="bold" text-anchor="start" textLength="14.30" lengthAdjust="spacingAndGlyphs" stroke="#000" stroke-width="0.7">-4</text>
<text x="42.90" y="277.87" font-size="20.5" font-weight="bold" text-anchor="start" textLength="22.80" lengthAdjust="spacingAndGlyphs" stroke="#000" stroke-width="0.7">10</text>
<text x="66.50" y="267.47" font-size="16.5" font-weight="bold" text-anchor="start" textLength="14.30" lengthAdjust="spacingAndGlyphs" stroke="#000" stroke-width="0.7">-3</text>
<text x="42.90" y="222.73" font-size="20.5" font-weight="bold" text-anchor="start" textLength="22.80" lengthAdjust="spacingAndGlyphs" stroke="#000" stroke-width="0.7">10</text>
<text x="66.50" y="212.33" font-size="16.5" font-weight="bold" text-anchor="start" textLength="14.30" lengthAdjust="spacingAndGlyphs" stroke="#000" stroke-width="0.7">-2</text>
<text x="42.90" y="167.59" font-size="20.5" font-weight="bold" text-anchor="start" textLength="22.80" lengthAdjust="spacingAndGlyphs" stroke="#000" stroke-width="0.7">10</text>
<text x="66.50" y="157.19" font-size="16.5" font-weight="bold" text-anchor="start" textLength="14.30" lengthAdjust="spacingAndGlyphs" stroke="#000" stroke-width="0.7">-1</text>
<text x="48.20" y="112.44" font-size="20.5" font-weight="bold" text-anchor="start" textLength="22.80" lengthAdjust="spacingAndGlyphs" stroke="#000" stroke-width="0.7">10</text>
<text x="71.80" y="102.04" font-size="16.5" font-weight="bold" text-anchor="start" textLength="9.00" lengthAdjust="spacingAndGlyphs" stroke="#000" stroke-width="0.7">0</text>
<text x="48.20" y="57.30" font-size="20.5" font-weight="bold" text-anchor="start" textLength="22.80" lengthAdjust="spacingAndGlyphs" stroke="#000" stroke-width="0.7">10</text>
<text x="71.80" y="46.90" font-size="16.5" font-weight="bold" text-anchor="start" textLength="9.00" lengthAdjust="spacingAndGlyphs" stroke="#000" stroke-width="0.7">1</text>
<text x="68.65" y="462.00" font-size="20.5" font-weight="bold" text-anchor="start" textLength="23.40" lengthAdjust="spacingAndGlyphs" stroke="#000" stroke-width="0.7">10</text>
<text x="92.85" y="452.20" font-size="15.3" font-weight="bold" text-anchor="start" textLength="13.50" lengthAdjust="spacingAndGlyphs" stroke="#000" stroke-width="0.7">-4</text>
<text x="161.23" y="462.00" font-size="20.5" font-weight="bold" text-anchor="start" textLength="23.40" lengthAdjust="spacingAndGlyphs" stroke="#000" stroke-width="0.7">10</text>
<text x="185.43" y="452.20" font-size="15.3" font-weight="bold" text-anchor="start" textLength="13.50" lengthAdjust="spacingAndGlyphs" stroke="#000" stroke-width="0.7">-3</text>
<text x="253.81" y="462.00" font-size="20.5" font-weight="bold" text-anchor="start" textLength="23.40" lengthAdjust="spacingAndGlyphs" stroke="#000" stroke-width="0.7">10</text>
<text x="278.01" y="452.20" font-size="15.3" font-weight="bold" text-anchor="start" textLength="13.50" lengthAdjust="spacingAndGlyphs" stroke="#000" stroke-width="0.7">-2</text>
<text x="346.38" y="462.00" font-size="20.5" font-weight="bold" text-anchor="start" textLength="23.40" lengthAdjust="spacingAndGlyphs" stroke="#000" stroke-width="0.7">10</text>
<text x="370.58" y="452.20" font-size="15.3" font-weight="bold" text-anchor="start" textLength="13.50" lengthAdjust="spacingAndGlyphs" stroke="#000" stroke-width="0.7">-1</text>
<text x="441.46" y="462.00" font-size="20.5" font-weight="bold" text-anchor="start" textLength="23.40" lengthAdjust="spacingAndGlyphs" stroke="#000" stroke-width="0.7">10</text>
<text x="465.66" y="452.20" font-size="15.3" font-weight="bold" text-anchor="start" textLength="8.50" lengthAdjust="spacingAndGlyphs" stroke="#000" stroke-width="0.7">0</text>
<text x="534.04" y="462.00" font-size="20.5" font-weight="bold" text-anchor="start" textLength="23.40" lengthAdjust="spacingAndGlyphs" stroke="#000" stroke-width="0.7">10</text>
<text x="558.24" y="452.20" font-size="15.3" font-weight="bold" text-anchor="start" textLength="8.50" lengthAdjust="spacingAndGlyphs" stroke="#000" stroke-width="0.7">1</text>
<text x="626.62" y="462.00" font-size="20.5" font-weight="bold" text-anchor="start" textLength="23.40" lengthAdjust="spacingAndGlyphs" stroke="#000" stroke-width="0.7">10</text>
<text x="650.82" y="452.20" font-size="15.3" font-weight="bold" text-anchor="start" textLength="8.50" lengthAdjust="spacingAndGlyphs" stroke="#000" stroke-width="0.7">2</text>
<polygon points="790.90,4.10 1384.60,4.80 1382.60,435.70 788.90,435.2" fill="none" stroke="#000" stroke-width="1.7" stroke-linejoin="round"/>
<line x1="833.57" y1="435.28" x2="833.57" y2="430.68" stroke="#444" stroke-width="0.8"/>
<line x1="835.57" y1="4.48" x2="835.57" y2="8.68" stroke="#999" stroke-width="0.6"/>
<line x1="859.70" y1="435.32" x2="859.70" y2="430.72" stroke="#444" stroke-width="0.8"/>
<line x1="861.70" y1="4.52" x2="861.70" y2="8.72" stroke="#999" stroke-width="0.6"/>
<line x1="878.25" y1="435.35" x2="878.25" y2="430.75" stroke="#999" stroke-width="0.6"/>
<line x1="880.24" y1="4.55" x2="880.24" y2="8.75" stroke="#999" stroke-width="0.6"/>
<line x1="892.63" y1="435.37" x2="892.63" y2="430.77" stroke="#999" stroke-width="0.6"/>
<line x1="894.63" y1="4.58" x2="894.63" y2="8.78" stroke="#999" stroke-width="0.6"/>
<line x1="904.38" y1="435.39" x2="904.38" y2="430.79" stroke="#444" stroke-width="0.8"/>
<line x1="906.38" y1="4.60" x2="906.38" y2="8.80" stroke="#999" stroke-width="0.6"/>
<line x1="914.31" y1="435.41" x2="914.31" y2="430.81" stroke="#444" stroke-width="0.8"/>
<line x1="916.31" y1="4.61" x2="916.31" y2="8.81" stroke="#999" stroke-width="0.6"/>
<line x1="922.92" y1="435.43" x2="922.92" y2="430.83" stroke="#444" stroke-width="0.8"/>
<line x1="924.92" y1="4.63" x2="924.92" y2="8.83" stroke="#999" stroke-width="0.6"/>
<line x1="930.51" y1="435.44" x2="930.51" y2="430.84" stroke="#999" stroke-width="0.6"/>
<line x1="932.51" y1="4.64" x2="932.51" y2="8.84" stroke="#999" stroke-width="0.6"/>
<line x1="937.30" y1="435.45" x2="937.30" y2="426.15" stroke="#777" stroke-width="0.8"/>
<line x1="939.30" y1="4.65" x2="939.30" y2="13.55" stroke="#999" stroke-width="0.6"/>
<line x1="981.97" y1="435.52" x2="981.97" y2="430.92" stroke="#444" stroke-width="0.8"/>
<line x1="983.97" y1="4.73" x2="983.97" y2="8.93" stroke="#999" stroke-width="0.6"/>
<line x1="1008.10" y1="435.57" x2="1008.10" y2="430.97" stroke="#444" stroke-width="0.8"/>
<line x1="1010.10" y1="4.77" x2="1010.10" y2="8.97" stroke="#999" stroke-width="0.6"/>
<line x1="1026.65" y1="435.60" x2="1026.65" y2="431.00" stroke="#999" stroke-width="0.6"/>
<line x1="1028.64" y1="4.80" x2="1028.64" y2="9.00" stroke="#999" stroke-width="0.6"/>
<line x1="1041.03" y1="435.62" x2="1041.03" y2="431.02" stroke="#999" stroke-width="0.6"/>
<line x1="1043.03" y1="4.83" x2="1043.03" y2="9.03" stroke="#999" stroke-width="0.6"/>
<line x1="1052.78" y1="435.64" x2="1052.78" y2="431.04" stroke="#444" stroke-width="0.8"/>
<line x1="1054.78" y1="4.85" x2="1054.78" y2="9.05" stroke="#222" stroke-width="1.0"/>
<line x1="1062.71" y1="435.66" x2="1062.71" y2="431.06" stroke="#111" stroke-width="1.0"/>
<line x1="1064.71" y1="4.86" x2="1064.71" y2="9.06" stroke="#222" stroke-width="1.0"/>
<line x1="1071.32" y1="435.68" x2="1071.32" y2="431.08" stroke="#111" stroke-width="1.0"/>
<line x1="1073.32" y1="4.88" x2="1073.32" y2="9.08" stroke="#222" stroke-width="1.0"/>
<line x1="1078.91" y1="435.69" x2="1078.91" y2="431.09" stroke="#111" stroke-width="1.0"/>
<line x1="1080.91" y1="4.89" x2="1080.91" y2="9.09" stroke="#222" stroke-width="1.0"/>
<line x1="1085.70" y1="435.70" x2="1085.70" y2="426.40" stroke="#111" stroke-width="1.0"/>
<line x1="1087.70" y1="4.90" x2="1087.70" y2="13.80" stroke="#222" stroke-width="1.0"/>
<line x1="1130.37" y1="435.77" x2="1130.37" y2="431.17" stroke="#111" stroke-width="1.0"/>
<line x1="1132.37" y1="4.98" x2="1132.37" y2="9.18" stroke="#222" stroke-width="1.0"/>
<line x1="1156.50" y1="435.82" x2="1156.50" y2="431.22" stroke="#111" stroke-width="1.0"/>
<line x1="1158.50" y1="5.02" x2="1158.50" y2="9.22" stroke="#222" stroke-width="1.0"/>
<line x1="1175.05" y1="435.85" x2="1175.05" y2="431.25" stroke="#111" stroke-width="1.0"/>
<line x1="1177.04" y1="5.05" x2="1177.04" y2="9.25" stroke="#222" stroke-width="1.0"/>
<line x1="1189.43" y1="435.87" x2="1189.43" y2="431.27" stroke="#111" stroke-width="1.0"/>
<line x1="1191.43" y1="5.08" x2="1191.43" y2="9.28" stroke="#222" stroke-width="1.0"/>
<line x1="1201.18" y1="435.89" x2="1201.18" y2="431.29" stroke="#111" stroke-width="1.0"/>
<line x1="1203.18" y1="5.10" x2="1203.18" y2="9.30" stroke="#222" stroke-width="1.0"/>
<line x1="1211.11" y1="435.91" x2="1211.11" y2="431.31" stroke="#111" stroke-width="1.0"/>
<line x1="1213.11" y1="5.11" x2="1213.11" y2="9.31" stroke="#222" stroke-width="1.0"/>
<line x1="1219.72" y1="435.93" x2="1219.72" y2="431.33" stroke="#111" stroke-width="1.0"/>
<line x1="1221.72" y1="5.13" x2="1221.72" y2="9.33" stroke="#222" stroke-width="1.0"/>
<line x1="1227.31" y1="435.94" x2="1227.31" y2="431.34" stroke="#111" stroke-width="1.0"/>
<line x1="1229.31" y1="5.14" x2="1229.31" y2="9.34" stroke="#222" stroke-width="1.0"/>
<line x1="1234.10" y1="435.95" x2="1234.10" y2="426.65" stroke="#111" stroke-width="1.0"/>
<line x1="1236.10" y1="5.15" x2="1236.10" y2="14.05" stroke="#222" stroke-width="1.0"/>
<line x1="1278.77" y1="436.02" x2="1278.77" y2="431.42" stroke="#111" stroke-width="1.0"/>
<line x1="1280.77" y1="5.23" x2="1280.77" y2="9.43" stroke="#222" stroke-width="1.0"/>
<line x1="1304.90" y1="436.07" x2="1304.90" y2="431.47" stroke="#111" stroke-width="1.0"/>
<line x1="1306.90" y1="5.27" x2="1306.90" y2="9.47" stroke="#222" stroke-width="1.0"/>
<line x1="1323.45" y1="436.10" x2="1323.45" y2="431.50" stroke="#111" stroke-width="1.0"/>
<line x1="1325.44" y1="5.30" x2="1325.44" y2="9.50" stroke="#222" stroke-width="1.0"/>
<line x1="1337.83" y1="436.12" x2="1337.83" y2="431.52" stroke="#111" stroke-width="1.0"/>
<line x1="1339.83" y1="5.33" x2="1339.83" y2="9.53" stroke="#222" stroke-width="1.0"/>
<line x1="1349.58" y1="436.14" x2="1349.58" y2="431.54" stroke="#111" stroke-width="1.0"/>
<line x1="1351.58" y1="5.35" x2="1351.58" y2="9.55" stroke="#222" stroke-width="1.0"/>
<line x1="1359.51" y1="436.16" x2="1359.51" y2="431.56" stroke="#111" stroke-width="1.0"/>
<line x1="1361.51" y1="5.36" x2="1361.51" y2="9.56" stroke="#222" stroke-width="1.0"/>
<line x1="1368.12" y1="436.17" x2="1368.12" y2="431.57" stroke="#111" stroke-width="1.0"/>
<line x1="1370.12" y1="5.38" x2="1370.12" y2="9.58" stroke="#222" stroke-width="1.0"/>
<line x1="1375.71" y1="436.19" x2="1375.71" y2="431.59" stroke="#111" stroke-width="1.0"/>
<line x1="1377.71" y1="5.39" x2="1377.71" y2="9.59" stroke="#222" stroke-width="1.0"/>
<line x1="789.00" y1="414.65" x2="793.60" y2="414.65" stroke="#111" stroke-width="1.0"/>
<line x1="1382.70" y1="415.85" x2="1378.10" y2="415.85" stroke="#111" stroke-width="1.0"/>
<line x1="789.09" y1="394.10" x2="797.89" y2="394.10" stroke="#111" stroke-width="1.15"/>
<line x1="1382.79" y1="395.30" x2="1373.99" y2="395.30" stroke="#111" stroke-width="1.15"/>
<line x1="789.19" y1="373.55" x2="793.79" y2="373.55" stroke="#111" stroke-width="1.0"/>
<line x1="1382.89" y1="374.75" x2="1378.29" y2="374.75" stroke="#111" stroke-width="1.0"/>
<line x1="789.28" y1="353.00" x2="798.08" y2="353.00" stroke="#111" stroke-width="1.15"/>
<line x1="1382.98" y1="354.20" x2="1374.18" y2="354.20" stroke="#111" stroke-width="1.15"/>
<line x1="789.38" y1="332.45" x2="793.98" y2="332.45" stroke="#111" stroke-width="1.0"/>
<line x1="1383.08" y1="333.65" x2="1378.48" y2="333.65" stroke="#111" stroke-width="1.0"/>
<line x1="789.47" y1="311.90" x2="798.27" y2="311.90" stroke="#111" stroke-width="1.15"/>
<line x1="1383.17" y1="313.10" x2="1374.37" y2="313.10" stroke="#111" stroke-width="1.15"/>
<line x1="789.57" y1="291.35" x2="794.17" y2="291.35" stroke="#111" stroke-width="1.0"/>
<line x1="1383.27" y1="292.55" x2="1378.67" y2="292.55" stroke="#111" stroke-width="1.0"/>
<line x1="789.66" y1="270.80" x2="798.46" y2="270.80" stroke="#111" stroke-width="1.15"/>
<line x1="1383.36" y1="272.00" x2="1374.56" y2="272.00" stroke="#111" stroke-width="1.15"/>
<line x1="789.76" y1="250.25" x2="794.36" y2="250.25" stroke="#111" stroke-width="1.0"/>
<line x1="1383.46" y1="251.45" x2="1378.86" y2="251.45" stroke="#111" stroke-width="1.0"/>
<line x1="789.85" y1="229.70" x2="798.65" y2="229.70" stroke="#111" stroke-width="1.15"/>
<line x1="1383.55" y1="230.90" x2="1374.75" y2="230.90" stroke="#111" stroke-width="1.15"/>
<line x1="789.95" y1="209.15" x2="794.55" y2="209.15" stroke="#111" stroke-width="1.0"/>
<line x1="1383.65" y1="210.35" x2="1379.05" y2="210.35" stroke="#111" stroke-width="1.0"/>
<line x1="790.04" y1="188.60" x2="798.84" y2="188.60" stroke="#111" stroke-width="1.15"/>
<line x1="1383.74" y1="189.80" x2="1374.94" y2="189.80" stroke="#111" stroke-width="1.15"/>
<line x1="790.14" y1="168.05" x2="794.74" y2="168.05" stroke="#111" stroke-width="1.0"/>
<line x1="1383.84" y1="169.25" x2="1379.24" y2="169.25" stroke="#111" stroke-width="1.0"/>
<line x1="790.24" y1="147.50" x2="799.04" y2="147.50" stroke="#111" stroke-width="1.15"/>
<line x1="1383.94" y1="148.70" x2="1375.14" y2="148.70" stroke="#111" stroke-width="1.15"/>
<line x1="790.33" y1="126.95" x2="794.93" y2="126.95" stroke="#111" stroke-width="1.0"/>
<line x1="1384.03" y1="128.15" x2="1379.43" y2="128.15" stroke="#111" stroke-width="1.0"/>
<line x1="790.43" y1="106.40" x2="799.23" y2="106.40" stroke="#111" stroke-width="1.15"/>
<line x1="1384.13" y1="107.60" x2="1375.33" y2="107.60" stroke="#111" stroke-width="1.15"/>
<line x1="790.52" y1="85.85" x2="795.12" y2="85.85" stroke="#111" stroke-width="1.0"/>
<line x1="1384.22" y1="87.05" x2="1379.62" y2="87.05" stroke="#111" stroke-width="1.0"/>
<line x1="790.62" y1="65.30" x2="799.42" y2="65.30" stroke="#111" stroke-width="1.15"/>
<line x1="1384.32" y1="66.50" x2="1375.52" y2="66.50" stroke="#111" stroke-width="1.15"/>
<line x1="790.71" y1="44.75" x2="795.31" y2="44.75" stroke="#111" stroke-width="1.0"/>
<line x1="1384.41" y1="45.95" x2="1379.81" y2="45.95" stroke="#111" stroke-width="1.0"/>
<line x1="790.81" y1="24.20" x2="799.61" y2="24.20" stroke="#111" stroke-width="1.15"/>
<line x1="1384.51" y1="25.40" x2="1375.71" y2="25.40" stroke="#111" stroke-width="1.15"/>
<text x="781.60" y="446.20" font-size="20.5" font-weight="bold" text-anchor="end" textLength="30.50" lengthAdjust="spacingAndGlyphs" stroke="#000" stroke-width="0.7">0.0</text>
<text x="781.79" y="405.10" font-size="20.5" font-weight="bold" text-anchor="end" textLength="30.50" lengthAdjust="spacingAndGlyphs" stroke="#000" stroke-width="0.7">0.1</text>
<text x="781.98" y="364.00" font-size="20.5" font-weight="bold" text-anchor="end" textLength="30.50" lengthAdjust="spacingAndGlyphs" stroke="#000" stroke-width="0.7">0.2</text>
<text x="782.17" y="322.90" font-size="20.5" font-weight="bold" text-anchor="end" textLength="30.50" lengthAdjust="spacingAndGlyphs" stroke="#000" stroke-width="0.7">0.3</text>
<text x="782.36" y="281.80" font-size="20.5" font-weight="bold" text-anchor="end" textLength="30.50" lengthAdjust="spacingAndGlyphs" stroke="#000" stroke-width="0.7">0.4</text>
<text x="782.55" y="240.70" font-size="20.5" font-weight="bold" text-anchor="end" textLength="30.50" lengthAdjust="spacingAndGlyphs" stroke="#000" stroke-width="0.7">0.5</text>
<text x="782.74" y="199.60" font-size="20.5" font-weight="bold" text-anchor="end" textLength="30.50" lengthAdjust="spacingAndGlyphs" stroke="#000" stroke-width="0.7">0.6</text>
<text x="782.94" y="158.50" font-size="20.5" font-weight="bold" text-anchor="end" textLength="30.50" lengthAdjust="spacingAndGlyphs" stroke="#000" stroke-width="0.7">0.7</text>
<text x="783.13" y="117.40" font-size="20.5" font-weight="bold" text-anchor="end" textLength="30.50" lengthAdjust="spacingAndGlyphs" stroke="#000" stroke-width="0.7">0.8</text>
<text x="783.32" y="76.30" font-size="20.5" font-weight="bold" text-anchor="end" textLength="30.50" lengthAdjust="spacingAndGlyphs" stroke="#000" stroke-width="0.7">0.9</text>
<text x="783.51" y="35.20" font-size="20.5" font-weight="bold" text-anchor="end" textLength="30.50" lengthAdjust="spacingAndGlyphs" stroke="#000" stroke-width="0.7">1.0</text>
<text x="772.75" y="467.30" font-size="20.3" font-weight="bold" text-anchor="start" textLength="23.50" lengthAdjust="spacingAndGlyphs" stroke="#000" stroke-width="0.7">10</text>
<text x="797.05" y="459.10" font-size="15.5" font-weight="bold" text-anchor="start" stroke="#000" stroke-width="0.7">8</text>
<text x="921.15" y="467.30" font-size="20.3" font-weight="bold" text-anchor="start" textLength="23.50" lengthAdjust="spacingAndGlyphs" stroke="#000" stroke-width="0.7">10</text>
<text x="945.45" y="459.10" font-size="15.5" font-weight="bold" text-anchor="start" stroke="#000" stroke-width="0.7">9</text>
<text x="1065.25" y="467.30" font-size="20.3" font-weight="bold" text-anchor="start" textLength="23.50" lengthAdjust="spacingAndGlyphs" stroke="#000" stroke-width="0.7">10</text>
<text x="1089.55" y="459.10" font-size="15.5" font-weight="bold" text-anchor="start" stroke="#000" stroke-width="0.7">10</text>
<text x="1213.65" y="467.30" font-size="20.3" font-weight="bold" text-anchor="start" textLength="23.50" lengthAdjust="spacingAndGlyphs" stroke="#000" stroke-width="0.7">10</text>
<text x="1237.95" y="459.10" font-size="15.5" font-weight="bold" text-anchor="start" stroke="#000" stroke-width="0.7">11</text>
<text x="1362.05" y="467.30" font-size="20.3" font-weight="bold" text-anchor="start" textLength="23.50" lengthAdjust="spacingAndGlyphs" stroke="#000" stroke-width="0.7">10</text>
<text x="1386.35" y="459.10" font-size="15.5" font-weight="bold" text-anchor="start" stroke="#000" stroke-width="0.7">12</text>
<text x="858.00" y="494.00" font-size="24" font-weight="bold" text-anchor="start" textLength="433.50" lengthAdjust="spacingAndGlyphs" stroke="#000" stroke-width="0.7">Displacement Damage Dose (MeV/g)</text>
<text x="733.50" y="398.20" font-size="25" font-weight="bold" text-anchor="start" textLength="327.80" lengthAdjust="spacingAndGlyphs" transform="rotate(-90 733.50 398.20)" stroke="#000" stroke-width="0.7">Normalized Maximum Power</text>
<text x="710.60" y="32.70" font-size="41" font-weight="bold" text-anchor="start" textLength="28.60" lengthAdjust="spacingAndGlyphs" stroke="#000" stroke-width="0.7">B</text>
<text x="1194.60" y="69.40" font-size="33" font-weight="normal" text-anchor="start" textLength="146.00" lengthAdjust="spacingAndGlyphs" stroke="#000" stroke-width="0.8">GaAs/Ge</text>
<text x="1202.00" y="101.00" font-size="23" font-weight="bold" text-anchor="start" textLength="134.50" lengthAdjust="spacingAndGlyphs" stroke="#000" stroke-width="0.7">1 Sun, AM0</text>
<text x="1229.60" y="132.50" font-size="22.5" font-weight="bold" text-anchor="start" textLength="56.50" lengthAdjust="spacingAndGlyphs" stroke="#000" stroke-width="0.7">T=25</text>
<text x="1286.50" y="122.20" font-size="17.5" font-weight="bold" text-anchor="start" textLength="12.80" lengthAdjust="spacingAndGlyphs" stroke="#000" stroke-width="0.7">o</text>
<text x="1299.50" y="132.50" font-size="22.5" font-weight="bold" text-anchor="start" textLength="16.80" lengthAdjust="spacingAndGlyphs" stroke="#000" stroke-width="0.7">C</text>
<path d="M790.79,27.17 L798.21,27.52 L805.63,27.92 L813.05,28.35 L820.47,28.84 L827.88,29.38 L835.30,29.98 L842.72,30.65 L850.13,31.39 L857.55,32.21 L864.97,33.12 L872.38,34.12 L879.80,35.22 L887.21,36.43 L894.62,37.76 L902.04,39.22 L909.45,40.81 L916.86,42.54 L924.27,44.43 L931.68,46.48 L939.09,48.69 L946.50,51.08 L953.91,53.65 L961.32,56.40 L968.72,59.33 L976.13,62.46 L983.53,65.78 L990.94,69.29 L998.34,73.00 L1005.74,76.89 L1013.14,80.96 L1020.54,85.22 L1027.94,89.64 L1035.34,94.24 L1042.74,99.00 L1050.14,103.91 L1057.53,108.97 L1064.93,114.16 L1072.33,119.48 L1079.72,124.92 L1087.11,130.47 L1094.51,136.12 L1101.90,141.87 L1109.29,147.71 L1116.69,153.62 L1124.08,159.61 L1131.47,165.67 L1138.86,171.79 L1146.25,177.96 L1153.64,184.19 L1161.04,190.46 L1168.43,196.77 L1175.82,203.11 L1183.21,209.50 L1190.60,215.91 L1197.99,222.34 L1205.38,228.81 L1212.77,235.29 L1220.16,241.79 L1227.55,248.32 L1234.94,254.85 L1242.33,261.40 L1249.72,267.97 L1254.45,272.17" fill="none" stroke="#000" stroke-width="2.6"/>
<circle cx="819.0" cy="30.3" r="6.0" fill="none" stroke="#000" stroke-width="1.35"/>
<circle cx="877.9" cy="36.8" r="6.0" fill="none" stroke="#000" stroke-width="1.35"/>
<circle cx="921.0" cy="46.2" r="6.0" fill="none" stroke="#000" stroke-width="1.35"/>
<circle cx="1025.4" cy="89.7" r="6.0" fill="none" stroke="#000" stroke-width="1.35"/>
<circle cx="1068.4" cy="122.5" r="6.0" fill="none" stroke="#000" stroke-width="1.35"/>
<circle cx="1113.5" cy="156.5" r="6.0" fill="none" stroke="#000" stroke-width="1.35"/>
<circle cx="1171.0" cy="202.3" r="6.0" fill="none" stroke="#000" stroke-width="1.35"/>
<circle cx="1218.9" cy="235.0" r="6.0" fill="none" stroke="#000" stroke-width="1.35"/>
<circle cx="1248.0" cy="262.0" r="6.0" fill="none" stroke="#000" stroke-width="1.35"/>
<polygon points="802.9,41.3 809.1,29.8 796.7,29.8" fill="none" stroke="#000" stroke-width="1.35"/>
<polygon points="846.9,45.5 853.1,34.0 840.7,34.0" fill="none" stroke="#000" stroke-width="1.35"/>
<polygon points="888.5,51.3 894.7,39.8 882.3,39.8" fill="none" stroke="#000" stroke-width="1.35"/>
<polygon points="994.7,84.0 1000.9,72.5 988.5,72.5" fill="none" stroke="#000" stroke-width="1.35"/>
<polygon points="1055.5,116.3 1061.7,104.8 1049.3,104.8" fill="none" stroke="#000" stroke-width="1.35"/>
<polygon points="1099.0,143.3 1105.2,131.8 1092.8,131.8" fill="none" stroke="#000" stroke-width="1.35"/>
<polygon points="1248.0,268.3 1254.2,256.8 1241.8,256.8" fill="none" stroke="#000" stroke-width="1.35"/>
<line x1="800.50" y1="32.60" x2="813.50" y2="32.60" stroke="#000" stroke-width="1.35"/>
<line x1="807.00" y1="26.10" x2="807.00" y2="39.10" stroke="#000" stroke-width="1.35"/>
<line x1="860.00" y1="45.70" x2="873.00" y2="45.70" stroke="#000" stroke-width="1.35"/>
<line x1="866.50" y1="39.20" x2="866.50" y2="52.20" stroke="#000" stroke-width="1.35"/>
<line x1="1007.30" y1="87.40" x2="1020.30" y2="87.40" stroke="#000" stroke-width="1.35"/>
<line x1="1013.80" y1="80.90" x2="1013.80" y2="93.90" stroke="#000" stroke-width="1.35"/>
<line x1="1048.70" y1="110.00" x2="1061.70" y2="110.00" stroke="#000" stroke-width="1.35"/>
<line x1="1055.20" y1="103.50" x2="1055.20" y2="116.50" stroke="#000" stroke-width="1.35"/>
<line x1="1245.00" y1="261.20" x2="1258.00" y2="261.20" stroke="#000" stroke-width="1.35"/>
<line x1="1251.50" y1="254.70" x2="1251.50" y2="267.70" stroke="#000" stroke-width="1.35"/>
<polygon points="804.0,17.9 810.6,24.3 804.0,30.7 797.4,24.3" fill="none" stroke="#000" stroke-width="1.35"/>
<polygon points="951.0,54.6 957.6,61.0 951.0,67.4 944.4,61.0" fill="none" stroke="#000" stroke-width="1.35"/>
<polygon points="995.5,72.1 1002.1,78.5 995.5,84.9 988.9,78.5" fill="none" stroke="#000" stroke-width="1.35"/>
<polygon points="1099.3,129.8 1105.9,136.2 1099.3,142.6 1092.7,136.2" fill="none" stroke="#000" stroke-width="1.35"/>
<polygon points="1143.0,165.1 1149.6,171.5 1143.0,177.9 1136.4,171.5" fill="none" stroke="#000" stroke-width="1.35"/>
<polygon points="1248.0,255.3 1254.6,261.7 1248.0,268.1 1241.4,261.7" fill="none" stroke="#000" stroke-width="1.35"/>
<line x1="826.10" y1="17.20" x2="839.10" y2="30.20" stroke="#000" stroke-width="1.35"/>
<line x1="826.10" y1="30.20" x2="839.10" y2="17.20" stroke="#000" stroke-width="1.35"/>
<line x1="929.50" y1="57.50" x2="942.50" y2="70.50" stroke="#000" stroke-width="1.35"/>
<line x1="929.50" y1="70.50" x2="942.50" y2="57.50" stroke="#000" stroke-width="1.35"/>
<line x1="973.20" y1="74.70" x2="986.20" y2="87.70" stroke="#000" stroke-width="1.35"/>
<line x1="973.20" y1="87.70" x2="986.20" y2="74.70" stroke="#000" stroke-width="1.35"/>
<line x1="1018.70" y1="91.70" x2="1031.70" y2="104.70" stroke="#000" stroke-width="1.35"/>
<line x1="1018.70" y1="104.70" x2="1031.70" y2="91.70" stroke="#000" stroke-width="1.35"/>
<line x1="1076.20" y1="124.20" x2="1089.20" y2="137.20" stroke="#000" stroke-width="1.35"/>
<line x1="1076.20" y1="137.20" x2="1089.20" y2="124.20" stroke="#000" stroke-width="1.35"/>
<line x1="1121.50" y1="158.30" x2="1134.50" y2="171.30" stroke="#000" stroke-width="1.35"/>
<line x1="1121.50" y1="171.30" x2="1134.50" y2="158.30" stroke="#000" stroke-width="1.35"/>
<line x1="1164.00" y1="195.00" x2="1177.00" y2="208.00" stroke="#000" stroke-width="1.35"/>
<line x1="1164.00" y1="208.00" x2="1177.00" y2="195.00" stroke="#000" stroke-width="1.35"/>
<line x1="1227.40" y1="247.30" x2="1240.40" y2="260.30" stroke="#000" stroke-width="1.35"/>
<line x1="1227.40" y1="260.30" x2="1240.40" y2="247.30" stroke="#000" stroke-width="1.35"/>
<polygon points="855.2,18.0 861.6,29.5 848.8,29.5" fill="none" stroke="#000" stroke-width="1.35"/>
<polygon points="958.0,64.7 964.4,76.2 951.6,76.2" fill="none" stroke="#000" stroke-width="1.35"/>
<polygon points="1002.7,84.3 1009.1,95.8 996.3,95.8" fill="none" stroke="#000" stroke-width="1.35"/>
<polygon points="1047.3,109.1 1053.7,120.6 1040.9,120.6" fill="none" stroke="#000" stroke-width="1.35"/>
<polygon points="1104.6,145.2 1111.0,156.7 1098.2,156.7" fill="none" stroke="#000" stroke-width="1.35"/>
<polygon points="1149.8,179.1 1156.2,190.6 1143.4,190.6" fill="none" stroke="#000" stroke-width="1.35"/>
<polygon points="1193.2,218.7 1199.6,230.2 1186.8,230.2" fill="none" stroke="#000" stroke-width="1.35"/>
<circle cx="836.2" cy="41.5" r="6.2" fill="#000"/>
<circle cx="881.8" cy="46.3" r="6.2" fill="#000"/>
<circle cx="924.0" cy="56.3" r="6.2" fill="#000"/>
<circle cx="1028.0" cy="96.5" r="6.2" fill="#000"/>
<circle cx="1073.9" cy="117.6" r="6.2" fill="#000"/>
<circle cx="1126.4" cy="153.5" r="6.2" fill="#000"/>
<circle cx="1175.3" cy="199.0" r="6.2" fill="#000"/>
<polygon points="793.8,26.9 800.4,38.4 787.2,38.4" fill="#000"/>
<polygon points="899.3,36.9 905.9,48.4 892.7,48.4" fill="#000"/>
<polygon points="942.0,46.4 948.6,57.9 935.4,57.9" fill="#000"/>
<polygon points="987.0,60.8 993.6,72.3 980.4,72.3" fill="#000"/>
<polygon points="1047.3,88.0 1053.9,99.5 1040.7,99.5" fill="#000"/>
<polygon points="1090.7,118.7 1097.3,130.2 1084.1,130.2" fill="#000"/>
<polygon points="1191.0,201.9 1197.6,213.4 1184.4,213.4" fill="#000"/>
<polygon points="1237.8,265.1 1244.4,276.6 1231.2,276.6" fill="#000"/>
<rect x="811.4" y="26.9" width="12.6" height="12.6" fill="#000"/>
<rect x="856.1" y="33.5" width="12.6" height="12.6" fill="#000"/>
<rect x="900.0" y="43.7" width="12.6" height="12.6" fill="#000"/>
<rect x="959.2" y="57.0" width="12.6" height="12.6" fill="#000"/>
<rect x="1003.5" y="69.7" width="12.6" height="12.6" fill="#000"/>
<rect x="1048.3" y="89.3" width="12.6" height="12.6" fill="#000"/>
<rect x="1107.2" y="132.3" width="12.6" height="12.6" fill="#000"/>
<rect x="1151.9" y="172.2" width="12.6" height="12.6" fill="#000"/>
<rect x="1197.1" y="216.1" width="12.6" height="12.6" fill="#000"/>
<polygon points="830.8,25.8 838.1,32.6 830.8,39.4 823.5,32.6" fill="#000"/>
<polygon points="931.0,50.2 938.3,57.0 931.0,63.8 923.7,57.0" fill="#000"/>
<polygon points="977.3,67.8 984.6,74.6 977.3,81.4 970.0,74.6" fill="#000"/>
<polygon points="1036.0,90.7 1043.3,97.5 1036.0,104.3 1028.7,97.5" fill="#000"/>
<polygon points="1079.8,114.9 1087.1,121.7 1079.8,128.5 1072.5,121.7" fill="#000"/>
<polygon points="1134.3,150.7 1141.6,157.5 1134.3,164.3 1127.0,157.5" fill="#000"/>
<polygon points="1181.6,194.5 1188.9,201.3 1181.6,208.1 1174.3,201.3" fill="#000"/>
<polygon points="1227.5,247.2 1234.8,254.0 1227.5,260.8 1220.2,254.0" fill="#000"/>
<text x="854.80" y="224.00" font-size="23" font-weight="bold" text-anchor="start" textLength="94.00" lengthAdjust="spacingAndGlyphs" stroke="#000" stroke-width="0.7">Protons</text>
<line x1="854.00" y1="227.40" x2="949.00" y2="227.40" stroke="#000" stroke-width="1.6"/>
<text x="1017.80" y="224.20" font-size="23" font-weight="bold" text-anchor="start" textLength="114.00" lengthAdjust="spacingAndGlyphs" stroke="#000" stroke-width="0.7">Electrons</text>
<line x1="1017.00" y1="227.20" x2="1132.00" y2="227.20" stroke="#000" stroke-width="1.6"/>
<text x="884.30" y="254.00" font-size="21" font-weight="bold" text-anchor="start" textLength="78.60" lengthAdjust="spacingAndGlyphs" stroke="#000" stroke-width="0.7">9.5 MeV</text>
<circle cx="851.8" cy="247.4" r="6.0" fill="none" stroke="#000" stroke-width="1.35"/>
<text x="884.30" y="279.40" font-size="21" font-weight="bold" text-anchor="start" textLength="61.00" lengthAdjust="spacingAndGlyphs" stroke="#000" stroke-width="0.7">3 MeV</text>
<polygon points="851.8,279.1 858.0,267.6 845.6,267.6" fill="none" stroke="#000" stroke-width="1.35"/>
<text x="884.30" y="304.80" font-size="21" font-weight="bold" text-anchor="start" textLength="60.60" lengthAdjust="spacingAndGlyphs" stroke="#000" stroke-width="0.7">1 MeV</text>
<line x1="845.30" y1="298.20" x2="858.30" y2="298.20" stroke="#000" stroke-width="1.35"/>
<line x1="851.80" y1="291.70" x2="851.80" y2="304.70" stroke="#000" stroke-width="1.35"/>
<text x="884.30" y="330.60" font-size="21" font-weight="bold" text-anchor="start" textLength="78.60" lengthAdjust="spacingAndGlyphs" stroke="#000" stroke-width="0.7">0.5 MeV</text>
<polygon points="851.8,317.6 858.4,324.0 851.8,330.4 845.2,324.0" fill="none" stroke="#000" stroke-width="1.35"/>
<text x="884.30" y="356.00" font-size="21" font-weight="bold" text-anchor="start" textLength="78.60" lengthAdjust="spacingAndGlyphs" stroke="#000" stroke-width="0.7">0.3 MeV</text>
<line x1="845.30" y1="342.90" x2="858.30" y2="355.90" stroke="#000" stroke-width="1.35"/>
<line x1="845.30" y1="355.90" x2="858.30" y2="342.90" stroke="#000" stroke-width="1.35"/>
<text x="884.30" y="381.50" font-size="21" font-weight="bold" text-anchor="start" textLength="78.60" lengthAdjust="spacingAndGlyphs" stroke="#000" stroke-width="0.7">0.2 MeV</text>
<polygon points="851.8,368.6 858.2,380.1 845.4,380.1" fill="none" stroke="#000" stroke-width="1.35"/>
<text x="1058.80" y="256.00" font-size="21.3" font-weight="bold" text-anchor="start" textLength="86.00" lengthAdjust="spacingAndGlyphs" stroke="#000" stroke-width="0.7">0.6 MeV</text>
<circle cx="1019.2" cy="249.0" r="6.2" fill="#000"/>
<text x="1058.80" y="283.60" font-size="21.3" font-weight="bold" text-anchor="start" textLength="65.00" lengthAdjust="spacingAndGlyphs" stroke="#000" stroke-width="0.7">1 MeV</text>
<polygon points="1019.2,269.7 1025.8,281.2 1012.6,281.2" fill="#000"/>
<text x="1058.80" y="311.50" font-size="21.3" font-weight="bold" text-anchor="start" textLength="86.00" lengthAdjust="spacingAndGlyphs" stroke="#000" stroke-width="0.7">2.4 MeV</text>
<rect x="1012.9" y="298.2" width="12.6" height="12.6" fill="#000"/>
<text x="1058.80" y="339.30" font-size="21.3" font-weight="bold" text-anchor="start" textLength="79.50" lengthAdjust="spacingAndGlyphs" stroke="#000" stroke-width="0.7">12 MeV</text>
<polygon points="1019.2,325.5 1026.5,332.3 1019.2,339.1 1011.9,332.3" fill="#000"/>
</svg>
</div>
</body></html>
